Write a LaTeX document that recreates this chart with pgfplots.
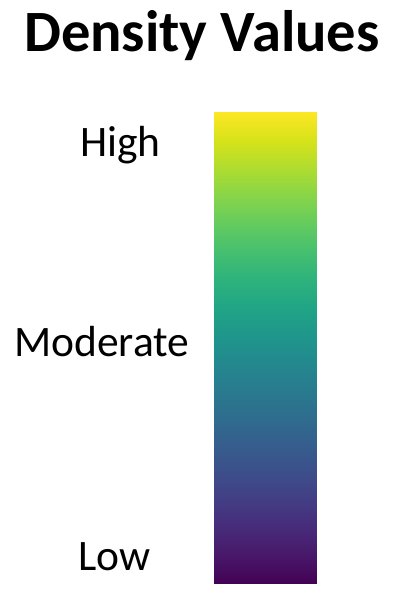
\documentclass[border=0pt]{standalone}
\usepackage{pgfplots}
\pgfplotsset{compat=1.18}
\usepackage{fontspec}
\setmainfont{Carlito}
\begin{document}
\begin{tikzpicture}[x=1bp,y=1bp]
\useasboundingbox (0,0) rectangle (409,606);
\begin{axis}[
  at={(214bp,22bp)}, anchor=south west,
  width=102bp, height=472bp, scale only axis,
  axis lines=none, view={0}{90},
  xmin=0, xmax=1, ymin=0, ymax=1,
  colormap/viridis, point meta min=0, point meta max=1,
  clip=false,
]
\addplot3[surf, shader=interp, mesh/rows=11, point meta=explicit] table[x=x, y=y, z=z, meta=c] {
x y z c
0 0.0 0 0.0
1 0.0 0 0.0
0 0.1 0 0.1
1 0.1 0 0.1
0 0.2 0 0.2
1 0.2 0 0.2
0 0.3 0 0.3
1 0.3 0 0.3
0 0.4 0 0.4
1 0.4 0 0.4
0 0.5 0 0.5
1 0.5 0 0.5
0 0.6 0 0.6
1 0.6 0 0.6
0 0.7 0 0.7
1 0.7 0 0.7
0 0.8 0 0.8
1 0.8 0 0.8
0 0.9 0 0.9
1 0.9 0 0.9
0 1.0 0 1.0
1 1.0 0 1.0
};
\end{axis}
\node[anchor=base west, inner sep=0pt, font=\fontsize{58.5bp}{70bp}\selectfont\bfseries] at (24,554) {Density Values};
\node[anchor=base west, inner sep=0pt, font=\fontsize{43.5bp}{52bp}\selectfont] at (80,449) {High};
\node[anchor=base west, inner sep=0pt, font=\fontsize{43.5bp}{52bp}\selectfont] at (14,249) {Moderate};
\node[anchor=base west, inner sep=0pt, font=\fontsize{43.5bp}{52bp}\selectfont] at (78,35) {Low};
\end{tikzpicture}
\end{document}
